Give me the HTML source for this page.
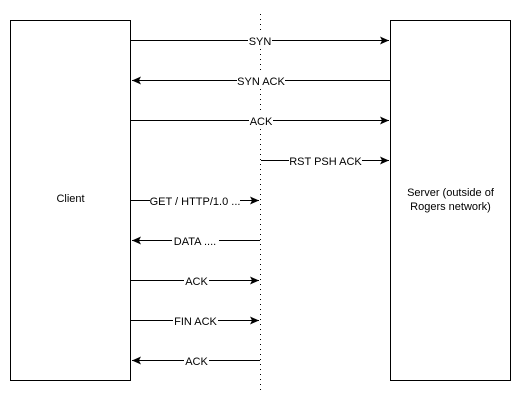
<!DOCTYPE html>
<html><head><style>body{margin:0;background:#fff}svg{display:block}</style></head><body>
<svg width="512" height="401" xmlns="http://www.w3.org/2000/svg" font-family="Liberation Sans, Arial, sans-serif" font-size="11">
<defs>
<marker id="a" markerWidth="10" markerHeight="8" refX="9" refY="4" orient="auto" markerUnits="userSpaceOnUse">
<path d="M0,0 L9,4 L0,8 L2,4 Z" fill="#000"/>
</marker>
</defs>
<rect x="10.5" y="20.5" width="120" height="360" fill="#fff" stroke="#000"/>
<rect x="390.5" y="20.5" width="120" height="360" fill="#fff" stroke="#000"/>
<text x="70.5" y="202" text-anchor="middle">Client</text>
<text x="450.5" y="196" text-anchor="middle">Server (outside of</text>
<text x="450.5" y="210" text-anchor="middle">Rogers network)</text>
<line x1="260.5" y1="14" x2="260.5" y2="392" stroke="#000" stroke-dasharray="1 4"/>
<g stroke="#000" fill="none">
<line x1="131" y1="40.5" x2="389" y2="40.5" marker-end="url(#a)"/>
<line x1="390" y1="80.5" x2="132" y2="80.5" marker-end="url(#a)"/>
<line x1="131" y1="120.5" x2="389" y2="120.5" marker-end="url(#a)"/>
<line x1="261" y1="160.5" x2="389" y2="160.5" marker-end="url(#a)"/>
<line x1="131" y1="200.5" x2="259" y2="200.5" marker-end="url(#a)"/>
<line x1="260" y1="240.5" x2="132" y2="240.5" marker-end="url(#a)"/>
<line x1="131" y1="280.5" x2="259" y2="280.5" marker-end="url(#a)"/>
<line x1="131" y1="320.5" x2="259" y2="320.5" marker-end="url(#a)"/>
<line x1="260" y1="360.5" x2="132" y2="360.5" marker-end="url(#a)"/>
</g>
<g text-anchor="middle">
<rect x="248" y="34" width="24" height="13" fill="#fff"/><text x="260" y="45">SYN</text>
<rect x="237" y="74" width="48" height="13" fill="#fff"/><text x="261" y="85">SYN ACK</text>
<rect x="249" y="114" width="24" height="13" fill="#fff"/><text x="261" y="125">ACK</text>
<rect x="289" y="154" width="73" height="13" fill="#fff"/><text x="325.5" y="165">RST PSH ACK</text>
<rect x="150" y="194" width="90" height="13" fill="#fff"/><text x="195" y="205">GET / HTTP/1.0 ...</text>
<rect x="172" y="234" width="47" height="13" fill="#fff"/><text x="195" y="245">DATA ....</text>
<rect x="184" y="274" width="25" height="13" fill="#fff"/><text x="196.5" y="285">ACK</text>
<rect x="173" y="314" width="45" height="13" fill="#fff"/><text x="195.5" y="325">FIN ACK</text>
<rect x="184" y="354" width="25" height="13" fill="#fff"/><text x="196.5" y="365">ACK</text>
</g>
</svg>
</body></html>
